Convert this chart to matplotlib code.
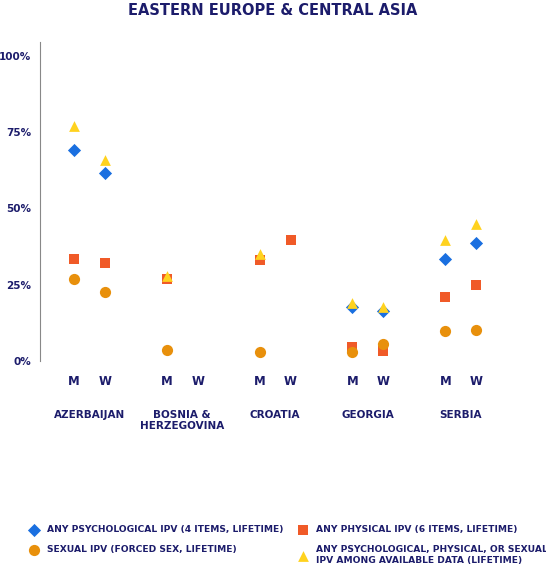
import matplotlib
matplotlib.use("Agg")
import matplotlib.pyplot as plt
import numpy as np

plt.rcParams['font.family'] = ['DejaVu Sans']
navy = '#1c1c6b'

countries = ["AZERBAIJAN", "BOSNIA &\nHERZEGOVINA", "CROATIA", "GEORGIA", "SERBIA"]
sexes = ["M", "W"]
# order: Az M, Az W, Bo M, Bo W, Cr M, Cr W, Ge M, Ge W, Se M, Se W
psych = [69, 61.6, None, None, None, None, 17.7, 16.4, 33.4, 38.7]
phys = [33.5, 32, 27, None, 33, 39.5, 4.6, 3.3, 21, 25]
sexual = [27, 22.6, 3.5, None, 3, None, 3, 5.6, 9.8, 10.2]
anyipv = [77, 66, 28, None, 35, None, 19, 17.7, 39.7, 45]

fig = plt.figure(figsize=(5.46, 5.73), dpi=100)
ax = fig.add_axes([0.073, 0.37, 0.897, 0.557])
xs = []
for i in range(len(countries)):
    xs += [i - 0.167, i + 0.167]
xs = np.array(xs)

def plot(vals, **kw):
    pts = [(x, v) for x, v in zip(xs, vals) if v is not None]
    return ax.scatter([p[0] for p in pts], [p[1] for p in pts], zorder=3, linewidths=0, **kw)

h1 = plot(psych, marker='D', s=45, color='#1a6fe0', label='ANY PSYCHOLOGICAL IPV (4 ITEMS, LIFETIME)')
h2 = plot(phys, marker='s', s=45, color='#f05a28', label='ANY PHYSICAL IPV (6 ITEMS, LIFETIME)')
h3 = plot(sexual, marker='o', s=65, color='#e8900c', label='SEXUAL IPV (FORCED SEX, LIFETIME)')
h4 = plot(anyipv, marker='^', s=60, color='#ffd21f', label='ANY PSYCHOLOGICAL, PHYSICAL, OR SEXUAL\nIPV AMONG AVAILABLE DATA (LIFETIME)')

ax.set_xlim(-0.532, 4.74)
ax.set_ylim(0, 104.6)
ax.set_yticks([0, 25, 50, 75, 100])
ax.set_yticklabels(['0%', '25%', '50%', '75%', '100%'], color=navy, fontsize=7.5, fontweight='bold')
ax.set_xticks(xs)
ax.set_xticklabels(sexes * len(countries), color=navy, fontsize=8.5, fontweight='bold')
ax.tick_params(axis='both', length=0, pad=10)
ax.tick_params(axis='y', pad=6)
for s in ['top', 'right', 'bottom']:
    ax.spines[s].set_visible(False)
ax.spines['left'].set_color('#888888')
for i, c in enumerate(countries):
    ax.text(i, -16, c, ha='center', va='top', color=navy, fontsize=7.5, fontweight='bold',
            linespacing=1.2, transform=ax.transData, clip_on=False)
fig.text(0.5, 0.982, 'EASTERN EUROPE & CENTRAL ASIA', ha='center', va='center',
         color=navy, fontsize=10.5, fontweight='bold')
fig.legend(handles=[h1, h3, h2, h4], loc='lower left', bbox_to_anchor=(0.03, 0.0),
           ncol=2, frameon=False, labelcolor=navy, handletextpad=0.4,
           columnspacing=1.2, labelspacing=1.2,
           prop={'weight': 'bold', 'size': 6.6})
fig.savefig('out.png', dpi=100)
